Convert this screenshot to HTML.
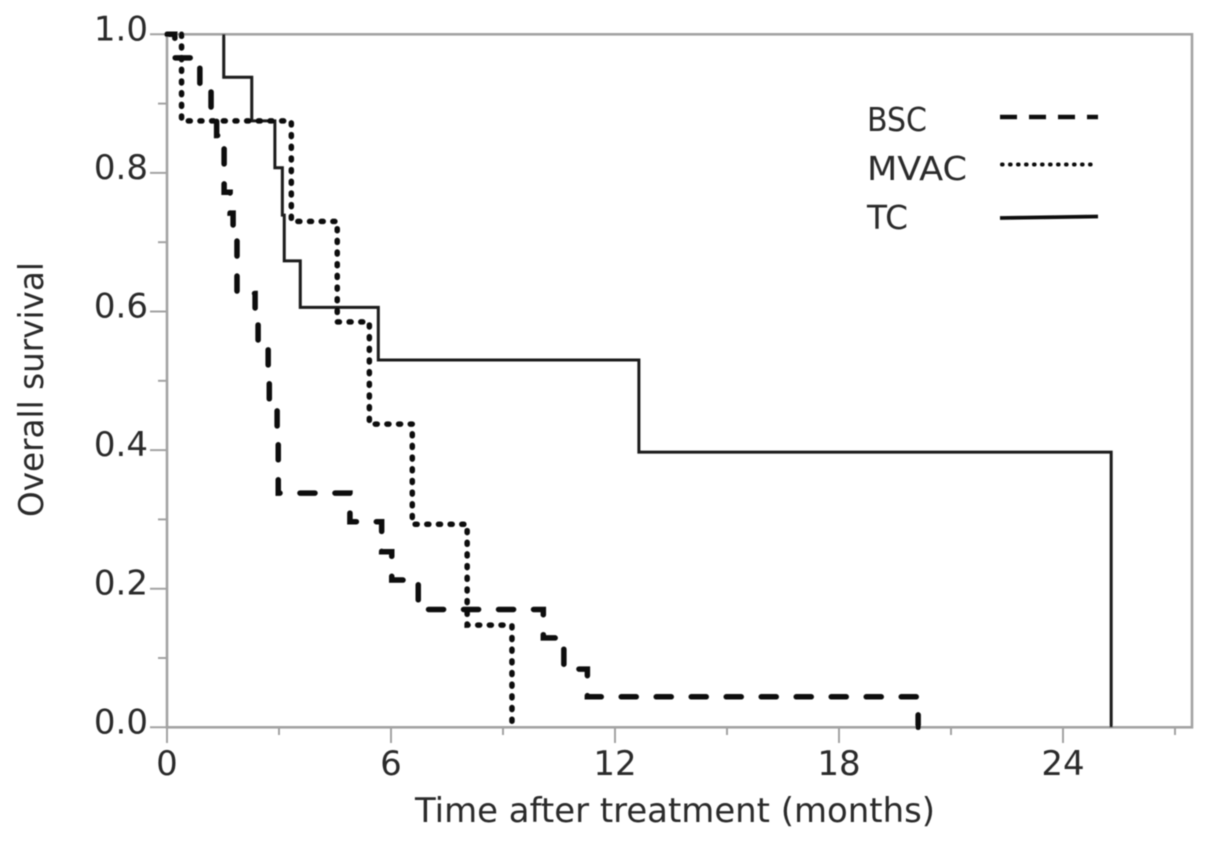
<!DOCTYPE html>
<html lang="en">
<head>
<meta charset="utf-8">
<title>Overall survival after treatment</title>
<style>
  html, body { margin: 0; padding: 0; background: #fff; }
  svg { display: block; font-family: "DejaVu Sans", "Liberation Sans", sans-serif; }
  text { fill: #2b2b2b; }
</style>
</head>
<body>
<svg id="chart" width="1205" height="841" viewBox="0 0 1205 841" xmlns="http://www.w3.org/2000/svg">
  <defs><filter id="soft" x="-5%" y="-5%" width="110%" height="110%"><feGaussianBlur stdDeviation="0.55"/></filter></defs>
  <g id="root" filter="url(#soft)">
    <rect x="167" y="34.3" width="1025" height="693" fill="none" stroke="#a3a3a3" stroke-width="2.6"/>
    <g id="axes"></g>
    <g id="series"></g>
    <text x="415" y="822" font-size="34" textLength="520" lengthAdjust="spacingAndGlyphs">Time after treatment (months)</text>
    <text transform="translate(43,517) rotate(-90)" font-size="34" textLength="255" lengthAdjust="spacingAndGlyphs">Overall survival</text>
    <g>
      <text x="867" y="131" font-size="33" textLength="60" lengthAdjust="spacingAndGlyphs">BSC</text>
      <line x1="1000" y1="117" x2="1098" y2="117" stroke="#111" stroke-width="4.5" stroke-dasharray="17 12"/>
      <text x="867" y="180" font-size="33" textLength="100" lengthAdjust="spacingAndGlyphs">MVAC</text>
      <line x1="1002" y1="164.5" x2="1098" y2="164.5" stroke="#111" stroke-width="4" stroke-linecap="round" stroke-dasharray="0.6 7.4"/>
      <text x="867" y="229" font-size="33" textLength="41" lengthAdjust="spacingAndGlyphs">TC</text>
      <line x1="1000" y1="218" x2="1098" y2="216.5" stroke="#111" stroke-width="3.8"/>
    </g>
  </g>
</svg>
<script>
const xTickValues = [0, 3, 6, 9, 12, 15, 18, 21, 24, 27];
const xTickLabels = ["0", "", "6", "", "12", "", "18", "", "24", ""];
const yTickValues = [0, 0.1, 0.2, 0.3, 0.4, 0.5, 0.6, 0.7, 0.8, 0.9, 1];
const yTickLabels = ["0.0", "", "0.2", "", "0.4", "", "0.6", "", "0.8", "", "1.0"];

const bscTimes = [0.21, 0.88, 1.18, 1.33, 1.53, 1.69, 1.77, 1.875, 2.36, 2.44, 2.71, 2.74, 2.95, 2.98, 4.9, 5.75, 6.02, 6.73, 10.08, 10.63, 11.26, 20.12];
const bscSurvival = [0.966, 0.92, 0.875, 0.854, 0.772, 0.742, 0.71, 0.626, 0.595, 0.551, 0.508, 0.465, 0.414, 0.338, 0.2967, 0.2534, 0.2125, 0.17, 0.129, 0.084, 0.044, 0];

const mvacStartTime = 0.39;
const mvacTimes = [0.39, 3.33, 4.56, 5.42, 6.57, 8.04, 9.24];
const mvacSurvival = [0.875, 0.73, 0.585, 0.4375, 0.293, 0.1475, 0];

const tcStartTime = 1.52;
const tcTimes = [1.52, 2.27, 2.89, 3.09, 3.14, 3.57, 5.66, 12.64, 25.29];
const tcSurvival = [0.938, 0.875, 0.8075, 0.739, 0.673, 0.606, 0.53, 0.397, 0];

const NS = "http://www.w3.org/2000/svg";
const xScale = (t) => 167 + t * (224 / 6);
const yScale = (s) => 727.3 - s * 693;

function stepPath(startTime, times, survival) {
  let d = "M" + xScale(startTime).toFixed(2) + " " + yScale(1).toFixed(2);
  times.forEach((t, i) => {
    d += " H" + xScale(t).toFixed(2) + " V" + yScale(survival[i]).toFixed(2);
  });
  return d;
}

const axes = document.getElementById("axes");
const series = document.getElementById("series");

xTickValues.forEach((v, i) => {
  const major = xTickLabels[i] !== "";
  const tick = document.createElementNS(NS, "line");
  
  
  tick.setAttribute("x1", xScale(v));
  tick.setAttribute("x2", xScale(v));
  tick.setAttribute("y1", 727);
  tick.setAttribute("y2", major ? 743 : 735);
  tick.setAttribute("stroke", "#a3a3a3");
  tick.setAttribute("stroke-width", 2);
  axes.appendChild(tick);
  if (major) {
    const label = document.createElementNS(NS, "text");
    
    
    label.setAttribute("x", xScale(v));
    label.setAttribute("y", 775);
    label.setAttribute("font-size", 34);
    label.setAttribute("text-anchor", "middle");
    label.textContent = xTickLabels[i];
    axes.appendChild(label);
  }
});

yTickValues.forEach((v, i) => {
  const major = yTickLabels[i] !== "";
  const tick = document.createElementNS(NS, "line");
  
  
  tick.setAttribute("x1", major ? 150 : 158);
  tick.setAttribute("x2", 167);
  tick.setAttribute("y1", yScale(v));
  tick.setAttribute("y2", yScale(v));
  tick.setAttribute("stroke", "#a3a3a3");
  tick.setAttribute("stroke-width", 2);
  axes.appendChild(tick);
  if (major) {
    const label = document.createElementNS(NS, "text");
    
    
    label.setAttribute("x", 148);
    label.setAttribute("y", yScale(v) + 6);
    label.setAttribute("font-size", 34);
    label.setAttribute("text-anchor", "end");
    label.textContent = yTickLabels[i];
    axes.appendChild(label);
  }
});

const tcLine = document.createElementNS(NS, "path");


tcLine.setAttribute("d", stepPath(tcStartTime, tcTimes, tcSurvival));
tcLine.setAttribute("fill", "none");
tcLine.setAttribute("stroke", "#1c1c1c");
tcLine.setAttribute("stroke-width", 3);
series.appendChild(tcLine);

const mvacLine = document.createElementNS(NS, "path");


mvacLine.setAttribute("d", stepPath(mvacStartTime, mvacTimes, mvacSurvival));
mvacLine.setAttribute("fill", "none");
mvacLine.setAttribute("stroke", "#0a0a0a");
mvacLine.setAttribute("stroke-width", 5.5);
mvacLine.setAttribute("stroke-linecap", "round");
mvacLine.setAttribute("stroke-dasharray", "2 9.67");
series.appendChild(mvacLine);

const bscLine = document.createElementNS(NS, "path");


bscLine.setAttribute("d", stepPath(0, bscTimes, bscSurvival));
bscLine.setAttribute("fill", "none");
bscLine.setAttribute("stroke", "#0a0a0a");
bscLine.setAttribute("stroke-width", 5.5);
bscLine.setAttribute("stroke-linecap", "round");
bscLine.setAttribute("stroke-dasharray", "15 20");
bscLine.setAttribute("stroke-dashoffset", "3.25");
series.appendChild(bscLine);
</script>
</body>
</html>
